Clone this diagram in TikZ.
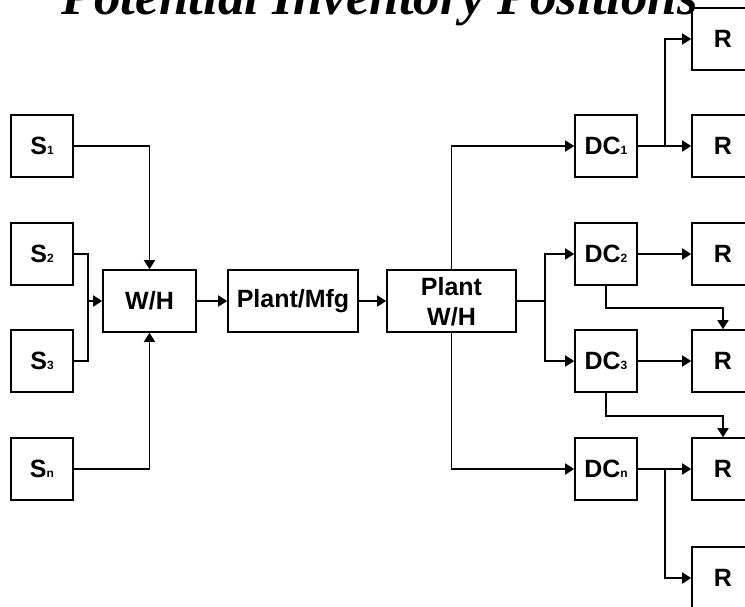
\documentclass[tikz,border=0pt]{standalone}
\usepackage{fontspec}
\setmainfont{Liberation Sans}
\newfontfamily\titlefont{Liberation Serif}
\usetikzlibrary{arrows.meta}
\newcommand\smallsub[1]{{\fontsize{12}{12}\selectfont #1}}
\tikzset{
  box/.style={draw=black, line width=1.6pt, inner sep=0pt, minimum height=62pt,
    font=\fontsize{25}{30}\selectfont\bfseries, align=center},
  sq/.style={box, minimum width=62pt},
  line/.style={draw=black, line width=1.7pt},
  arr/.style={line, -{Triangle[length=9pt,width=11pt]}},
}
\begin{document}
\begin{tikzpicture}[x=1pt,y=1pt]
\useasboundingbox (0,0) rectangle (745,-606);
\clip (0,0) rectangle (745,-606);
\node[anchor=base, font=\titlefont\fontsize{53}{58}\selectfont\bfseries\itshape] (title) at (380,-14) {Potential Inventory Positions};
% suppliers
\node[sq] (S1) at (42,-146) {S\smallsub{1}};
\node[sq] (S2) at (42,-254) {S\smallsub{2}};
\node[sq] (S3) at (42,-361) {S\smallsub{3}};
\node[sq] (Sn) at (42,-469) {S\smallsub{n}};
\node[box, minimum width=93pt] (WH) at (149.5,-301) {W/H};
\node[box, minimum width=130pt] (PM) at (293,-301) {Plant/Mfg};
\node[box, minimum width=129pt, text depth=-2pt] (PWH) at (451.5,-301) {Plant\\W/H};
% DCs
\node[sq] (DC1) at (606,-146) {DC\smallsub{1}};
\node[sq] (DC2) at (606,-254) {DC\smallsub{2}};
\node[sq] (DC3) at (606,-361) {DC\smallsub{3}};
\node[sq] (DCn) at (606,-469) {DC\smallsub{n}};
% retailers
\node[sq] (R0) at (723,-39) {R};
\node[sq] (R1) at (723,-146) {R};
\node[sq] (R2) at (723,-254) {R};
\node[sq] (R3) at (723,-361) {R};
\node[sq] (R4) at (723,-469) {R};
\node[sq] (R5) at (723,-578) {R};
% junctions
\coordinate (j1) at (88,-301);
\coordinate (j2) at (545,-301);
\coordinate (j3) at (665,-146);
\coordinate (j4) at (665,-469);
\coordinate (k2) at (606,-308);
\coordinate (k3) at (606,-416);
% connectors left
\draw[arr] (S1.east) -| (WH.north);
\draw[line] (S2.east) -| (j1);
\draw[line] (S3.east) -| (j1);
\draw[arr] (j1) -- (WH.west);
\draw[arr] (Sn.east) -| (WH.south);
\draw[arr] (WH.east) -- (PM.west);
\draw[arr] (PM.east) -- (PWH.west);
% plant W/H to DCs
\draw[arr] (PWH.north) |- (DC1.west);
\draw[line] (PWH.east) -- (j2);
\draw[arr] (j2) |- (DC2.west);
\draw[arr] (j2) |- (DC3.west);
\draw[arr] (PWH.south) |- (DCn.west);
% DCs to retailers
\draw[arr] (DC1.east) -- (R1.west);
\draw[arr] (j3) |- (R0.west);
\draw[arr] (DC2.east) -- (R2.west);
\draw[arr] (DC2.south) -- (k2) -| (R3.north);
\draw[arr] (DC3.east) -- (R3.west);
\draw[arr] (DC3.south) -- (k3) -| (R4.north);
\draw[arr] (DCn.east) -- (R4.west);
\draw[arr] (j4) |- (R5.west);
\end{tikzpicture}
\end{document}
